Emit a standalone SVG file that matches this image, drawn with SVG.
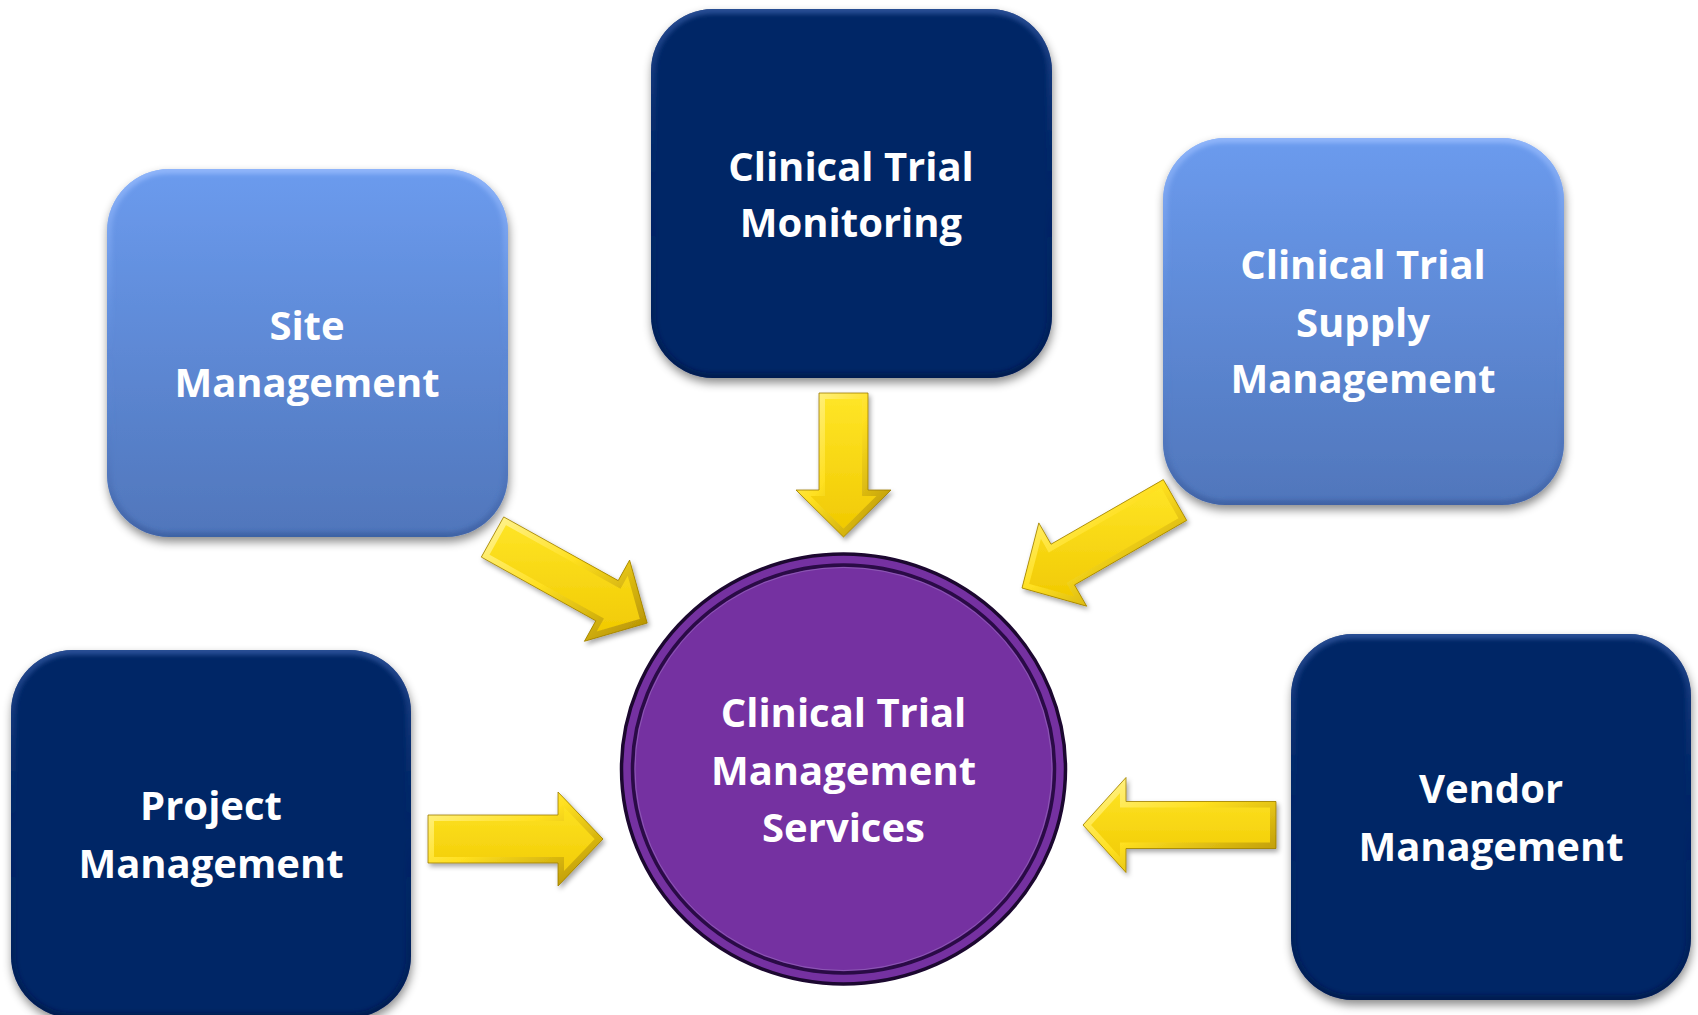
<svg xmlns="http://www.w3.org/2000/svg" xmlns:xlink="http://www.w3.org/1999/xlink" width="1698" height="1015" viewBox="0 0 1698 1015">
<style>
  .lbl { font-family: "Open Sans", "Liberation Sans", sans-serif; font-weight: 700; font-size: 40px; fill: #ffffff; text-anchor: middle; }
  .light { fill: url(#gLight); }
  .dark { fill: #062566; }
  .rimL { fill: none; stroke: url(#gRimLight); stroke-width: 10; }
  .rimD { fill: none; stroke: url(#gRimDark); stroke-width: 10; }
  .af { fill: url(#gArrow); }
  .ab { fill: none; stroke: url(#gBevel); stroke-width: 12; stroke-linejoin: miter; }
  .ao { fill: none; stroke: #9c7c00; stroke-width: 0.8; stroke-linejoin: miter; }
</style>
<defs>
  <linearGradient id="gLight" x1="0" y1="0" x2="0" y2="1">
    <stop offset="0" stop-color="#6B9BEE"/>
    <stop offset="1" stop-color="#5076BB"/>
  </linearGradient>
  <linearGradient id="gRimLight" x1="0" y1="0" x2="0" y2="1">
    <stop offset="0" stop-color="#9fc0ff" stop-opacity="0.7"/>
    <stop offset="0.5" stop-color="#6B9BEE" stop-opacity="0"/>
    <stop offset="1" stop-color="#2f4f8f" stop-opacity="0.5"/>
  </linearGradient>
  <linearGradient id="gRimDark" x1="0" y1="0" x2="0" y2="1">
    <stop offset="0" stop-color="#3a5fa8" stop-opacity="0.7"/>
    <stop offset="0.5" stop-color="#062566" stop-opacity="0"/>
    <stop offset="1" stop-color="#021540" stop-opacity="0.6"/>
  </linearGradient>
  <linearGradient id="gArrow" x1="0" y1="0" x2="0" y2="1">
    <stop offset="0" stop-color="#FFE628"/>
    <stop offset="1" stop-color="#F0C800"/>
  </linearGradient>
  <linearGradient id="gBevel" x1="0" y1="0" x2="1" y2="1">
    <stop offset="0" stop-color="#FFF59A"/>
    <stop offset="0.45" stop-color="#FFE020"/>
    <stop offset="1" stop-color="#B08C00"/>
  </linearGradient>
  <filter id="shBox" x="-10%" y="-10%" width="120%" height="125%">
    <feDropShadow dx="1" dy="5" stdDeviation="5" flood-color="#000" flood-opacity="0.45"/>
  </filter>
  <filter id="shArrow" x="-20%" y="-20%" width="140%" height="140%">
    <feDropShadow dx="2" dy="3" stdDeviation="2.5" flood-color="#000" flood-opacity="0.35"/>
  </filter>
  <filter id="soft" x="-5%" y="-5%" width="110%" height="110%">
    <feGaussianBlur stdDeviation="2"/>
  </filter>

  <rect id="bSite" x="107" y="169" width="401" height="368" rx="62" ry="62"/>
  <rect id="bMon" x="651" y="9" width="401" height="369" rx="62" ry="62"/>
  <rect id="bSup" x="1163" y="138" width="401" height="367" rx="62" ry="62"/>
  <rect id="bProj" x="11" y="650" width="400" height="368" rx="62" ry="62"/>
  <rect id="bVen" x="1291" y="634" width="400" height="366" rx="62" ry="62"/>
  <clipPath id="cSite"><use xlink:href="#bSite"/></clipPath>
  <clipPath id="cMon"><use xlink:href="#bMon"/></clipPath>
  <clipPath id="cSup"><use xlink:href="#bSup"/></clipPath>
  <clipPath id="cProj"><use xlink:href="#bProj"/></clipPath>
  <clipPath id="cVen"><use xlink:href="#bVen"/></clipPath>

  <polygon id="aMon" points="819,393 819,490 796,490 843.5,537 891,490 868,490 868,393"/>
  <polygon id="aProj" points="428,815 558,815 558,792 603,839 558,886 558,863 428,863"/>
  <polygon id="aVen" points="1276,801.5 1126,801.5 1126,777.5 1083,825 1126,872.5 1126,848.5 1276,848.5"/>
  <polygon id="aSite" points="503.7,516.9 618.2,580.6 629.6,560.1 647.2,623.1 584.4,641.3 595.8,620.8 481.3,557.1"/>
  <polygon id="aSup" points="1186.7,520.4 1074.5,584.9 1086.7,606.2 1022,588 1038.8,522.9 1051,544.2 1163.3,479.6"/>
  <clipPath id="caMon"><use xlink:href="#aMon"/></clipPath>
  <clipPath id="caProj"><use xlink:href="#aProj"/></clipPath>
  <clipPath id="caVen"><use xlink:href="#aVen"/></clipPath>
  <clipPath id="caSite"><use xlink:href="#aSite"/></clipPath>
  <clipPath id="caSup"><use xlink:href="#aSup"/></clipPath>
</defs>

<rect x="0" y="0" width="1698" height="1015" fill="#ffffff"/>

<g id="node-site">
  <use xlink:href="#bSite" class="light" filter="url(#shBox)"/>
  <g clip-path="url(#cSite)"><use xlink:href="#bSite" class="rimL" filter="url(#soft)"/></g>
  <text class="lbl" x="307" y="340">Site</text>
  <text class="lbl" x="307" y="397">Management</text>
</g>

<g id="node-monitoring">
  <use xlink:href="#bMon" class="dark" filter="url(#shBox)"/>
  <g clip-path="url(#cMon)"><use xlink:href="#bMon" class="rimD" filter="url(#soft)"/></g>
  <text class="lbl" x="851" y="181">Clinical Trial</text>
  <text class="lbl" x="851" y="237">Monitoring</text>
</g>

<g id="node-supply">
  <use xlink:href="#bSup" class="light" filter="url(#shBox)"/>
  <g clip-path="url(#cSup)"><use xlink:href="#bSup" class="rimL" filter="url(#soft)"/></g>
  <text class="lbl" x="1363" y="279">Clinical Trial</text>
  <text class="lbl" x="1363" y="337">Supply</text>
  <text class="lbl" x="1363" y="393">Management</text>
</g>

<g id="node-project">
  <use xlink:href="#bProj" class="dark" filter="url(#shBox)"/>
  <g clip-path="url(#cProj)"><use xlink:href="#bProj" class="rimD" filter="url(#soft)"/></g>
  <text class="lbl" x="211" y="820">Project</text>
  <text class="lbl" x="211" y="878">Management</text>
</g>

<g id="node-vendor">
  <use xlink:href="#bVen" class="dark" filter="url(#shBox)"/>
  <g clip-path="url(#cVen)"><use xlink:href="#bVen" class="rimD" filter="url(#soft)"/></g>
  <text class="lbl" x="1491" y="803">Vendor</text>
  <text class="lbl" x="1491" y="861">Management</text>
</g>

<g id="node-center">
  <ellipse cx="843.5" cy="769" rx="222" ry="215" fill="#7531A1" stroke="#1c0830" stroke-width="3.5"/>
  <ellipse cx="843.5" cy="769" rx="211" ry="204" fill="none" stroke="#2a0b46" stroke-width="3.5"/>
  <ellipse cx="843.5" cy="769" rx="208.5" ry="201.5" fill="none" stroke="#a47fc6" stroke-width="1" stroke-opacity="0.5"/>
  <text class="lbl" x="843.5" y="727">Clinical Trial</text>
  <text class="lbl" x="843.5" y="785">Management</text>
  <text class="lbl" x="843.5" y="842">Services</text>
</g>

<g id="connectors">
  <g id="arrow-monitoring" filter="url(#shArrow)">
    <use xlink:href="#aMon" class="af"/>
    <g clip-path="url(#caMon)"><use xlink:href="#aMon" class="ab"/></g>
    <use xlink:href="#aMon" class="ao"/>
  </g>
  <g id="arrow-site" filter="url(#shArrow)">
    <use xlink:href="#aSite" class="af"/>
    <g clip-path="url(#caSite)"><use xlink:href="#aSite" class="ab"/></g>
    <use xlink:href="#aSite" class="ao"/>
  </g>
  <g id="arrow-supply" filter="url(#shArrow)">
    <use xlink:href="#aSup" class="af"/>
    <g clip-path="url(#caSup)"><use xlink:href="#aSup" class="ab"/></g>
    <use xlink:href="#aSup" class="ao"/>
  </g>
  <g id="arrow-project" filter="url(#shArrow)">
    <use xlink:href="#aProj" class="af"/>
    <g clip-path="url(#caProj)"><use xlink:href="#aProj" class="ab"/></g>
    <use xlink:href="#aProj" class="ao"/>
  </g>
  <g id="arrow-vendor" filter="url(#shArrow)">
    <use xlink:href="#aVen" class="af"/>
    <g clip-path="url(#caVen)"><use xlink:href="#aVen" class="ab"/></g>
    <use xlink:href="#aVen" class="ao"/>
  </g>
</g>
</svg>
